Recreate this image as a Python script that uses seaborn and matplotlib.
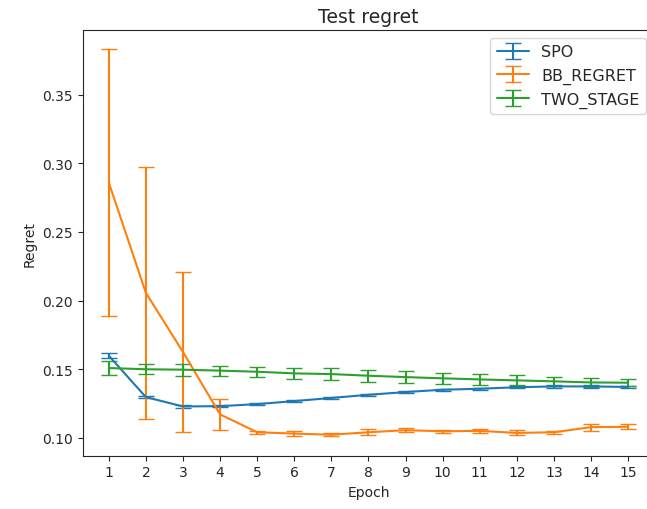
import numpy as np
import pandas as pd
import matplotlib
matplotlib.use("Agg")
import matplotlib.pyplot as plt
import seaborn as sns

epochs = list(range(1, 16))

spo_mean = [0.1598, 0.1296, 0.1228, 0.1230, 0.1245, 0.1267, 0.1290, 0.1313, 0.1333,
            0.1350, 0.1357, 0.1368, 0.1374, 0.1374, 0.1370]
spo_err = [0.0020, 0.0010, 0.0008, 0.0008, 0.0008, 0.0008, 0.0008, 0.0008, 0.0008,
           0.0008, 0.0008, 0.0008, 0.0008, 0.0008, 0.0008]

bb_mean = [0.286, 0.2056, 0.1625, 0.1170, 0.1040, 0.1030, 0.1022, 0.1040, 0.1055,
           0.1047, 0.1050, 0.1035, 0.1040, 0.1077, 0.1080]
bb_err = [0.0970, 0.0920, 0.0585, 0.0115, 0.0012, 0.0020, 0.0012, 0.0020, 0.0015,
          0.0010, 0.0015, 0.0018, 0.0010, 0.0025, 0.0020]

two_mean = [0.1508, 0.1499, 0.1496, 0.1489, 0.1481, 0.1469, 0.1464, 0.1452, 0.1442,
            0.1433, 0.1425, 0.1418, 0.1411, 0.1403, 0.1401]
two_err = [0.0049, 0.0038, 0.0043, 0.0037, 0.0037, 0.0041, 0.0041, 0.0043, 0.0043,
           0.0040, 0.0039, 0.0037, 0.0035, 0.0030, 0.0027]

series_names = ["SPO", "BB_REGRET", "TWO_STAGE"]
means = [spo_mean, bb_mean, two_mean]
errs = [spo_err, bb_err, two_err]

sns.set_style("ticks")
plt.rcParams["font.family"] = ["DejaVu Sans"]
colors = sns.color_palette("tab10", 3)

fig = plt.figure(figsize=(6.47, 5.1), dpi=100)
ax = fig.add_axes([0.128, 0.1045, 0.883, 0.8345])

for name, m, e, c in zip(series_names, means, errs, colors):
    ax.errorbar(epochs, m, yerr=e, label=name, color=c, capsize=6, linewidth=1.5)

ax.set_xticks(epochs)
ax.set_title("Test regret", fontsize=13.5)
ax.set_xlabel("Epoch")
ax.set_ylabel("Regret")
ax.set_yticks([0.10, 0.15, 0.20, 0.25, 0.30, 0.35])
ax.legend(loc="upper right", fontsize=11.5)
for s in ax.spines.values():
    s.set_visible(True)

fig.savefig("out.png", dpi=100)
